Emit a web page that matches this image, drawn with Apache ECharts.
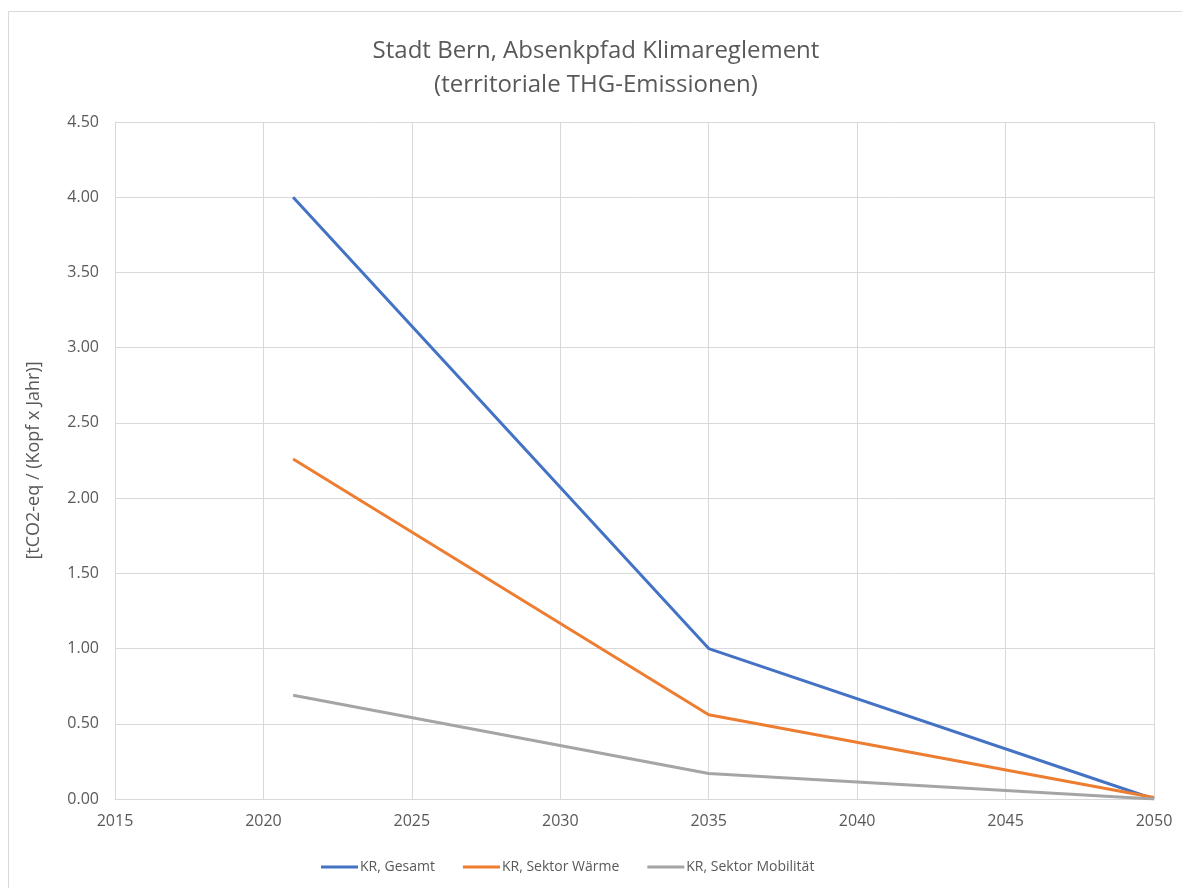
<!DOCTYPE html>
<html>
<head>
<meta charset="utf-8">
<script src="https://cdn.jsdelivr.net/npm/echarts@6/dist/echarts.min.js"></script>
<style>
  html, body { margin: 0; padding: 0; background: #fff; }
  #main { width: 1182px; height: 888px; }
</style>
</head>
<body>
<div id="main"></div>
<script>
// Stützjahre und Werte [tCO2-eq / (Kopf x Jahr)]
var years = [2021, 2035, 2050];
var gesamt = [4.00, 1.00, 0.00];
var waerme = [2.26, 0.56, 0.01];
var mobilitaet = [0.69, 0.17, 0.00];

var seriesNames = ['KR, Gesamt', 'KR, Sektor Wärme', 'KR, Sektor Mobilität'];
var colors = ['#4472c4', '#ed7d31', '#a5a5a5'];

function pairs(vals) {
    return years.map(function (y, i) { return [y, vals[i]]; });
}

var font = 'Open Sans, Liberation Sans, sans-serif';
var textColor = '#595959';

var myChart = echarts.init(document.getElementById('main'));
var option = {
    animation: false,
    color: colors,
    title: {
        text: 'Stadt Bern, Absenkpfad Klimareglement\n(territoriale THG-Emissionen)',
        left: 591,
        textAlign: 'center',
        top: 29,
        textStyle: {
            color: textColor,
            fontFamily: font,
            fontWeight: 'normal',
            fontSize: 24,
            lineHeight: 34
        }
    },
    graphic: [{
        type: 'rect',
        shape: {x: 8.5, y: 11.5, width: 1200, height: 900},
        style: {fill: 'none', stroke: '#d9d9d9', lineWidth: 1},
        silent: true
    }],
    legend: {
        top: 855,
        left: 316,
        itemWidth: 37,
        itemHeight: 3,
        itemGap: 28,
        icon: 'rect',
        textStyle: {color: textColor, fontFamily: font, fontSize: 14, padding: [0, 0, 0, -3]},
        data: seriesNames
    },
    grid: {
        left: 115,
        right: 28,
        top: 122,
        bottom: 89
    },
    xAxis: {
        type: 'value',
        min: 2015,
        max: 2050,
        interval: 5,
        axisLine: {show: true, lineStyle: {color: '#d9d9d9'}},
        axisTick: {show: false},
        splitLine: {show: true, lineStyle: {color: '#d9d9d9'}},
        axisLabel: {
            color: textColor, fontFamily: font, fontSize: 16, margin: 14,
            formatter: function (v) { return String(v); }
        }
    },
    yAxis: {
        type: 'value',
        min: 0,
        max: 4.5,
        interval: 0.5,
        name: '[tCO2-eq / (Kopf x Jahr)]',
        nameLocation: 'middle',
        nameGap: 72,
        nameTextStyle: {color: textColor, fontFamily: font, fontSize: 18},
        axisLine: {show: true, lineStyle: {color: '#d9d9d9'}},
        axisTick: {show: false},
        splitLine: {lineStyle: {color: '#d9d9d9'}},
        axisLabel: {
            color: textColor, fontFamily: font, fontSize: 16, margin: 16,
            formatter: function (v) { return v.toFixed(2); }
        }
    },
    series: [
        {name: seriesNames[0], type: 'line', data: pairs(gesamt), showSymbol: false, lineStyle: {width: 3}},
        {name: seriesNames[1], type: 'line', data: pairs(waerme), showSymbol: false, lineStyle: {width: 3}},
        {name: seriesNames[2], type: 'line', data: pairs(mobilitaet), showSymbol: false, lineStyle: {width: 3}}
    ]
};
myChart.setOption(option);
</script>
</body>
</html>
